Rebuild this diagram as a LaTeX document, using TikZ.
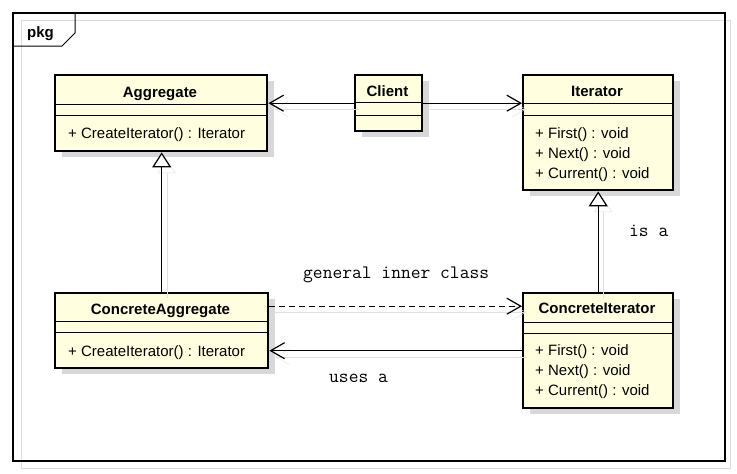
\documentclass[tikz,border=0pt]{standalone}
\usepackage{fontspec}
\setmainfont{Liberation Sans}
\usetikzlibrary{arrows.meta,shadows}
\definecolor{classfill}{RGB}{255,255,224}
\definecolor{shadowgray}{RGB}{216,216,216}
\tikzset{
  classbox/.style={draw, line width=2.4pt, fill=classfill, inner sep=0pt, anchor=north west,
    drop shadow={shadow xshift=7pt, shadow yshift=-6pt, fill=shadowgray, opacity=1}},
  classname/.style={font=\fontsize{15}{18}\selectfont\bfseries, inner sep=0pt, anchor=base},
  member/.style={font=\fontsize{15}{18}\selectfont, inner sep=0pt, anchor=base west},
  divider/.style={line width=1pt},
  connshadow/.style={preaction={draw=black!12, transform canvas={shift={(5pt,-6pt)}}}},
  assoc/.style={connshadow, line width=1.2pt, -{Straight Barb[length=14pt,width=16pt]}},
  inherit/.style={connshadow, line width=1.2pt, -{Triangle[open,length=15pt,width=19pt,fill=white]}},
  note/.style={font=\ttfamily\fontsize{19}{20}\selectfont, inner sep=0pt, anchor=base west}
}
\begin{document}
\begin{tikzpicture}[x=1pt, y=-1pt]
  \useasboundingbox (0,0) rectangle (737,474);
  % package frame
  \draw[black!14, line width=1pt] (21,20) rectangle (730,468);
  \draw[line width=1.3pt] (13,13) rectangle (725,461);
  \draw[line width=1pt] (13,46) -- (62,46) -- (75,33) -- (75,13);
  \node[classname, anchor=base west] (pkg) at (27,37) {pkg};

  % classes
  \node[classbox, minimum width=212pt, minimum height=76pt] (agg) at (54,74) {};
  \draw[divider] (54,104) -- (266,104);
  \draw[divider] (54,115) -- (266,115);
  \node[classname] (aggname) at (160,97) {Aggregate};
  \node[member] (aggop) at (68,138) {+ CreateIterator() : Iterator};

  \node[classbox, minimum width=67pt, minimum height=56pt] (client) at (354,74) {};
  \draw[divider] (354,102) -- (421,102);
  \draw[divider] (354,115) -- (421,115);
  \node[classname] (clientname) at (387.5,96) {Client};

  \node[classbox, minimum width=150pt, minimum height=115pt] (iter) at (522,74) {};
  \draw[divider] (522,103) -- (672,103);
  \draw[divider] (522,115) -- (672,115);
  \node[classname] (itername) at (597,96) {Iterator};
  \node[member] (iterfirst) at (535,138) {+ First() : void};
  \node[member] (iternext) at (535,158) {+ Next() : void};
  \node[member] (itercur) at (535,178) {+ Current() : void};

  \node[classbox, minimum width=213pt, minimum height=75pt] (cagg) at (54,292) {};
  \draw[divider] (54,321) -- (267,321);
  \draw[divider] (54,332) -- (267,332);
  \node[classname] (caggname) at (160.5,314) {ConcreteAggregate};
  \node[member] (caggop) at (68,356) {+ CreateIterator() : Iterator};

  \node[classbox, minimum width=150pt, minimum height=115pt] (citer) at (522,292) {};
  \draw[divider] (522,322) -- (672,322);
  \draw[divider] (522,333) -- (672,333);
  \node[classname] (citername) at (597,313) {ConcreteIterator};
  \node[member] (citerfirst) at (535,355) {+ First() : void};
  \node[member] (citernext) at (535,375) {+ Next() : void};
  \node[member] (citercur) at (535,395) {+ Current() : void};

  % relations
  \draw[assoc] (client.west) -- (client.west -| agg.east);
  \draw[assoc] (client.east) -- (client.east -| iter.west);
  \draw[inherit] (cagg.north) -- (cagg.north |- agg.south);
  \draw[inherit] (citer.north) -- (citer.north |- iter.south);
  \draw[assoc, dashed, dash pattern=on 6pt off 4pt] ([yshift=24.5pt]cagg.east) -- ([yshift=24.5pt]cagg.east -| citer.west);
  \draw[assoc] (citer.west) -- (citer.west -| cagg.east);

  \node[note] (inner) at (303,278) {general inner class};
  \node[note] (uses) at (329,382) {uses a};
  \node[note] (isa) at (629,236) {is a};
\end{tikzpicture}
\end{document}
